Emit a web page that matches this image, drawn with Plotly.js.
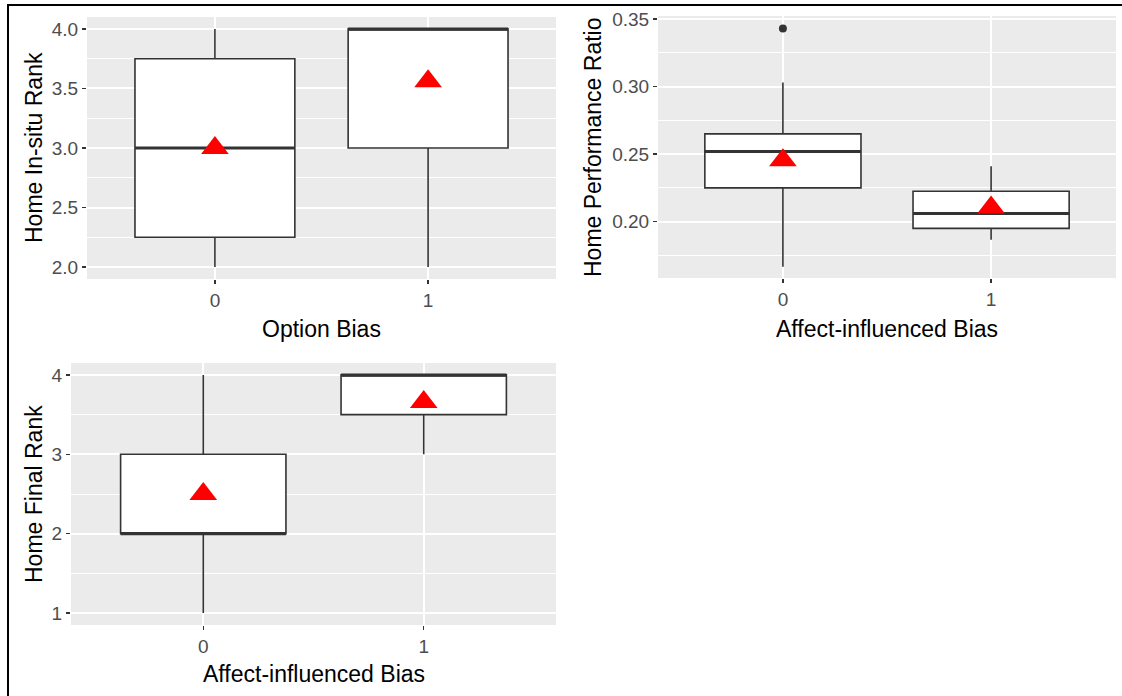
<!DOCTYPE html>
<html>
<head>
<meta charset="utf-8">
<script src="https://cdn.plot.ly/plotly-3.0.1.min.js"></script>
<style>html,body{margin:0;padding:0;background:#fff;}#chart{width:1122px;height:696px;}</style>
</head>
<body>
<div id="chart"></div>
<script>
// ---- data ----
var categories = [0, 1];
var categoryLabels = ['0', '1'];

// Panel 1: Home In-situ Rank by Option Bias
var insituQ1 = [2.25, 3.0];
var insituMedian = [3.0, 4.0];
var insituQ3 = [3.75, 4.0];
var insituLower = [2.0, 2.0];
var insituUpper = [4.0, 4.0];
var insituMean = [3.0, 3.56];

// Panel 2: Home Performance Ratio by Affect-influenced Bias
var perfQ1 = [0.225, 0.195];
var perfMedian = [0.252, 0.206];
var perfQ3 = [0.265, 0.2225];
var perfLower = [0.1665, 0.1865];
var perfUpper = [0.303, 0.241];
var perfMean = [0.2455, 0.2105];
var perfOutlierX = [0];
var perfOutlierY = [0.343];

// Panel 3: Home Final Rank by Affect-influenced Bias
var finalQ1 = [2, 3.5];
var finalMedian = [2, 4];
var finalQ3 = [3, 4];
var finalLower = [1, 3];
var finalUpper = [4, 4];
var finalMean = [2.5, 3.66];

// axis titles
var xTitles = ['Option Bias', 'Affect-influenced Bias', 'Affect-influenced Bias'];
var yTitles = ['Home In-situ Rank', 'Home Performance Ratio', 'Home Final Rank'];

// ---- styling ----
var W = 1122, H = 696;
var BOXW = 0.75;
var DARK = '#333333';
var FONT = 'Liberation Sans, Arial, sans-serif';

function boxTrace(q1, med, q3, lo, hi, xa, ya) {
  return {
    type: 'box', x: categories, q1: q1, median: med, q3: q3,
    lowerfence: lo, upperfence: hi, width: BOXW,
    fillcolor: '#FFFFFF', line: {color: DARK, width: 1.6},
    whiskerwidth: 0, boxpoints: false, hoverinfo: 'skip',
    xaxis: xa, yaxis: ya, showlegend: false
  };
}
function medianTrace(med, xa, ya) {
  var xs = [], ys = [];
  for (var i = 0; i < categories.length; i++) {
    xs.push(categories[i] - BOXW / 2, categories[i] + BOXW / 2, null);
    ys.push(med[i], med[i], null);
  }
  return {type: 'scatter', mode: 'lines', x: xs, y: ys,
    line: {color: DARK, width: 3}, hoverinfo: 'skip',
    xaxis: xa, yaxis: ya, showlegend: false};
}
function meanTrace(mean, xa, ya) {
  return {type: 'scatter', mode: 'markers', x: categories, y: mean,
    marker: {symbol: 'triangle-up', size: 24, color: '#FF0000'},
    hoverinfo: 'skip', xaxis: xa, yaxis: ya, showlegend: false};
}

var data = [
  boxTrace(insituQ1, insituMedian, insituQ3, insituLower, insituUpper, 'x', 'y'),
  medianTrace(insituMedian, 'x', 'y'),
  meanTrace(insituMean, 'x', 'y'),
  boxTrace(perfQ1, perfMedian, perfQ3, perfLower, perfUpper, 'x2', 'y2'),
  medianTrace(perfMedian, 'x2', 'y2'),
  {type: 'scatter', mode: 'markers', x: perfOutlierX, y: perfOutlierY,
   marker: {symbol: 'circle', size: 8, color: DARK}, hoverinfo: 'skip',
   xaxis: 'x2', yaxis: 'y2', showlegend: false},
  meanTrace(perfMean, 'x2', 'y2'),
  boxTrace(finalQ1, finalMedian, finalQ3, finalLower, finalUpper, 'x3', 'y3'),
  medianTrace(finalMedian, 'x3', 'y3'),
  meanTrace(finalMean, 'x3', 'y3')
];

function xAxis(domain, anchor) {
  return {
    domain: domain, anchor: anchor, range: [-0.6, 1.6],
    tickmode: 'array', tickvals: categories, ticktext: categoryLabels,
    showgrid: true, gridcolor: '#FFFFFF', gridwidth: 2, zeroline: false, showline: false,
    ticks: 'outside', ticklen: 4, tickwidth: 1.5, tickcolor: DARK,
    tickfont: {family: FONT, size: 19, color: '#4D4D4D'},
    automargin: false, fixedrange: true
  };
}
function yAxis(domain, anchor, range, tick0, dtick, fmt) {
  return {
    domain: domain, anchor: anchor, range: range,
    tick0: tick0, dtick: dtick, tickformat: fmt,
    showgrid: true, gridcolor: '#FFFFFF', gridwidth: 2, zeroline: false, showline: false,
    minor: {tick0: tick0, dtick: dtick / 2, showgrid: true, gridcolor: '#FFFFFF', gridwidth: 1, ticks: ''},
    ticks: 'outside', ticklen: 4, tickwidth: 1.5, tickcolor: DARK,
    tickfont: {family: FONT, size: 19, color: '#4D4D4D'},
    automargin: false, fixedrange: true
  };
}

function px(x) { return x / W; }
function py(y) { return 1 - y / H; }
var titleFont = {family: FONT, size: 23, color: '#000000'};
function xTitle(text, cx, cy) {
  return {text: text, xref: 'paper', yref: 'paper', x: px(cx), y: py(cy),
    xanchor: 'center', yanchor: 'middle', showarrow: false, font: titleFont};
}
function yTitle(text, cx, cy) {
  return {text: text, xref: 'paper', yref: 'paper', x: px(cx), y: py(cy), textangle: -90,
    xanchor: 'center', yanchor: 'middle', showarrow: false, font: titleFont};
}

var layout = {
  width: W, height: H,
  margin: {l: 0, r: 0, t: 0, b: 0, pad: 0},
  paper_bgcolor: '#FFFFFF', plot_bgcolor: '#EBEBEB',
  font: {family: FONT},
  showlegend: false,
  xaxis: xAxis([px(87), px(556)], 'y'),
  yaxis: yAxis([py(279), py(17)], 'x', [1.9, 4.1], 2, 0.5, '.1f'),
  xaxis2: xAxis([px(658), px(1116)], 'y2'),
  yaxis2: yAxis([py(278), py(16)], 'x2', [0.1582, 0.3523], 0.2, 0.05, '.2f'),
  xaxis3: xAxis([px(71), px(556)], 'y3'),
  yaxis3: yAxis([py(625), py(363)], 'x3', [0.85, 4.15], 1, 1, 'd'),
  annotations: [
    xTitle(xTitles[0], 321.5, 329),
    xTitle(xTitles[1], 887, 328.5),
    xTitle(xTitles[2], 313.5, 674),
    yTitle(yTitles[0], 34, 148),
    yTitle(yTitles[1], 593, 147),
    yTitle(yTitles[2], 34, 494)
  ],
  shapes: [
    {type: 'line', xref: 'paper', yref: 'paper', x0: px(7), x1: 1, y0: py(5), y1: py(5),
     line: {color: '#000000', width: 2}},
    {type: 'line', xref: 'paper', yref: 'paper', x0: px(8), x1: px(8), y0: py(4), y1: 0,
     line: {color: '#000000', width: 2}}
  ]
};

Plotly.newPlot('chart', data, layout, {displayModeBar: false, staticPlot: true});
</script>
</body>
</html>
